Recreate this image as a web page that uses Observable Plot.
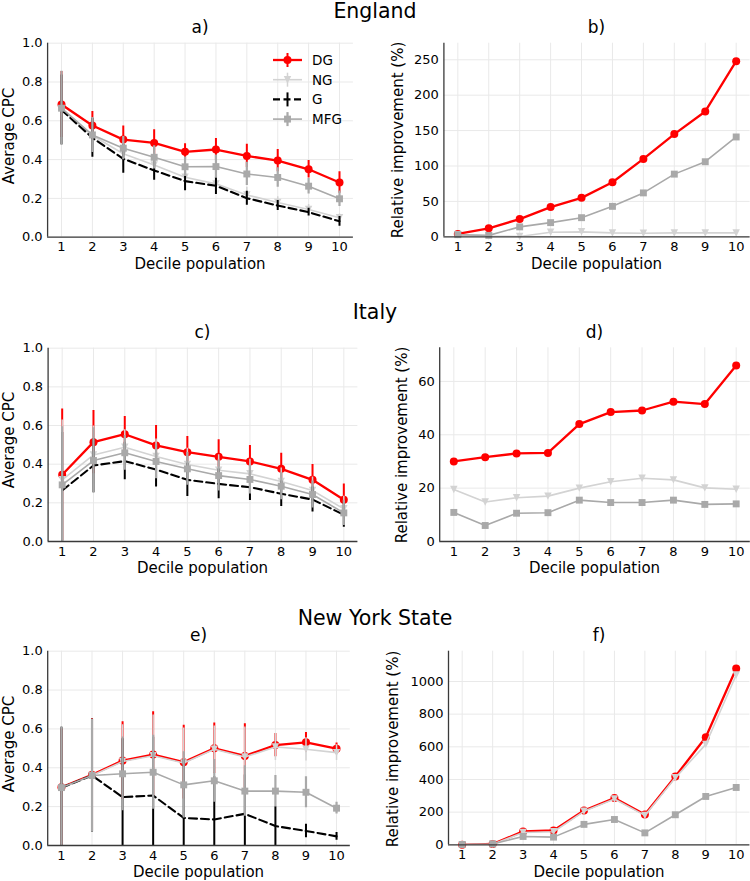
<!DOCTYPE html>
<html><head><meta charset="utf-8">
<script src="https://cdn.jsdelivr.net/npm/d3@7"></script>
<script src="https://cdn.jsdelivr.net/npm/@observablehq/plot@0.6"></script>
<style>
html,body{margin:0;padding:0;background:#fff;}
#root{position:relative;width:750px;height:881px;overflow:hidden;background:#fff;}
#root svg{position:absolute;}
</style></head><body><div id="root"></div>
<script>
// ---------------- data ----------------
const deciles = [1,2,3,4,5,6,7,8,9,10];
const seriesNames = ["DG","NG","G","MFG"];
const regionTitles = ["England","Italy","New York State"];
const panelLetters = ["a)","b)","c)","d)","e)","f)"];
const xLabel = "Decile population";
const yLabelCPC = "Average CPC";
const yLabelRel = "Relative improvement (%)";

const cpcTicks = [0,0.2,0.4,0.6,0.8,1.0];
const engRelTicks = [0,50,100,150,200,250];
const itaRelTicks = [0,20,40,60];
const nyRelTicks = [0,200,400,600,800,1000];

// England - Average CPC
const engDG = [0.684,0.576,0.503,0.486,0.440,0.452,0.419,0.395,0.350,0.282];
const engDGErr = [0.17,0.072,0.070,0.068,0.042,0.057,0.060,0.057,0.045,0.056];
const engNG = [0.660,0.524,0.430,0.372,0.309,0.275,0.218,0.179,0.143,0.100];
const engNGErr = [0.18,0.09,0.07,0.06,0.05,0.045,0.04,0.03,0.025,0.02];
const engG = [0.656,0.512,0.404,0.344,0.289,0.265,0.201,0.163,0.129,0.082];
const engGErr = [0.18,0.10,0.074,0.05,0.05,0.045,0.036,0.026,0.02,0.025];
const engMFG = [0.665,0.527,0.459,0.412,0.363,0.364,0.326,0.308,0.263,0.198];
const engMFGErr = [0.19,0.09,0.06,0.06,0.05,0.06,0.06,0.05,0.04,0.04];
// England - relative improvement (%)
const engRelDG = [4,12,25,42,55,77,110,145,177,248];
const engRelNG = [3,1,0.5,6.5,7,5.5,5,5.5,5.5,5.5];
const engRelMFG = [3,2,14,20,27,43,62,88.5,106,141];

// Italy - Average CPC
const itaDG = [0.345,0.514,0.555,0.497,0.462,0.438,0.414,0.376,0.319,0.216];
const itaDGErr = [0.34,0.164,0.092,0.103,0.081,0.088,0.083,0.081,0.079,0.082];
const itaNG = [0.319,0.448,0.488,0.440,0.398,0.369,0.350,0.310,0.264,0.169];
const itaNGErr = [0.31,0.15,0.09,0.09,0.085,0.08,0.075,0.07,0.07,0.065];
const itaG = [0.264,0.393,0.416,0.372,0.319,0.298,0.281,0.247,0.217,0.138];
const itaGErr = [0.30,0.14,0.097,0.09,0.086,0.077,0.069,0.066,0.065,0.064];
const itaMFG = [0.293,0.419,0.459,0.414,0.376,0.341,0.321,0.286,0.243,0.148];
const itaMFGErr = [0.30,0.17,0.09,0.09,0.085,0.08,0.075,0.07,0.07,0.065];
// Italy - relative improvement (%)
const itaRelDG = [30,31.6,33,33.2,44,48.5,49.1,52.4,51.5,66];
const itaRelNG = [19.5,14.8,16.4,17,20,22.4,23.7,23.1,20.1,19.6];
const itaRelMFG = [10.9,6,10.6,10.8,15.5,14.6,14.6,15.5,13.9,14.1];

// New York State - Average CPC
const nyDG = [0.300,0.364,0.437,0.468,0.429,0.500,0.461,0.517,0.531,0.498];
const nyDGErr = [0.30,0.29,0.20,0.22,0.19,0.13,0.165,0.06,0.05,0.03];
const nyNG = [0.295,0.360,0.432,0.462,0.425,0.495,0.455,0.507,0.495,0.478];
const nyNGErr = [0.30,0.29,0.19,0.21,0.18,0.12,0.155,0.07,0.06,0.04];
const nyG = [0.298,0.360,0.249,0.257,0.142,0.134,0.163,0.100,0.075,0.047];
const nyGErr = [0.31,0.29,0.30,0.30,0.30,0.22,0.20,0.10,0.035,0.02];
const nyMFG = [0.298,0.360,0.369,0.377,0.312,0.333,0.280,0.280,0.274,0.192];
const nyMFGErr = [0.31,0.29,0.19,0.19,0.17,0.11,0.13,0.08,0.08,0.03];
// New York State - relative improvement (%)
const nyRelDG = [0,5,82,88,210,286,186,418,659,1080];
const nyRelNG = [0,3,75,80,205,280,180,410,615,1040];
const nyRelMFG = [2,5,51,47,125,155,73,184,296,351];

// ---------------- styles ----------------
const triangleDown = {
  draw(ctx, size) {
    const a = Math.sqrt(size) * 0.5;
    ctx.moveTo(-a, -a);
    ctx.lineTo(a, -a);
    ctx.lineTo(0, a);
    ctx.closePath();
  }
};
const styles = {
  DG:  {color: "#ff0000", lw: 2.3, ew: 2.0, dash: null, symbol: "circle", r: 4},
  NG:  {color: "#d3d3d3", lw: 1.6, ew: 1.5, dash: null, symbol: triangleDown, r: 4.2},
  G:   {color: "#000000", lw: 2.1, ew: 2.0, dash: "8,4", symbol: null, r: 0},
  MFG: {color: "#a9a9a9", lw: 1.6, ew: 2.2, dash: null, symbol: "square", r: 3.9}
};
const gridColor = "#e9e9e9";
const spineColor = "#3a3a3a";
const FONT = "DejaVu Sans, sans-serif";

function rows(values, errs) {
  return deciles.map((d, i) => ({d, v: values[i],
    lo: errs ? values[i] - errs[i] : null, hi: errs ? values[i] + errs[i] : null}));
}

const xDomain = [0.55, 10.45];
const root = document.getElementById("root");

function panel({box, frame, yDomain, yTicks, yFormat, series}) {
  const [bx, by, bw, bh] = box;
  const [fx0, fy0, fx1, fy1] = frame;
  const marks = [
    Plot.gridX(deciles, {stroke: gridColor, strokeOpacity: 1, strokeWidth: 1}),
    Plot.gridY(yTicks, {stroke: gridColor, strokeOpacity: 1, strokeWidth: 1}),
    Plot.axisX(deciles, {tickSize: 0, tickPadding: 5, label: null, fontSize: 13, tickFormat: d => String(d)}),
    Plot.axisY(yTicks, {tickSize: 0, tickPadding: 5, label: null, fontSize: 13, tickFormat: yFormat})
  ];
  for (const s of series) {
    const st = styles[s.name];
    if (s.data[0].lo != null) {
      marks.push(Plot.ruleX(s.data, {x: "d", y1: "lo", y2: "hi", stroke: st.color, strokeWidth: st.ew, clip: true}));
    }
    marks.push(Plot.line(s.data, {x: "d", y: "v", stroke: st.color, strokeWidth: st.lw,
      strokeDasharray: st.dash || undefined, clip: true}));
    if (st.symbol) {
      marks.push(Plot.dot(s.data, {x: "d", y: "v", symbol: st.symbol, r: st.r, fill: st.color, stroke: "none"}));
    }
  }
  marks.push(Plot.ruleX([xDomain[0]], {stroke: spineColor, strokeWidth: 1.3}));
  marks.push(Plot.ruleY([yDomain[0]], {stroke: spineColor, strokeWidth: 1.3}));
  const svg = Plot.plot({
    width: bw, height: bh,
    marginLeft: fx0 - bx, marginRight: bx + bw - fx1,
    marginTop: fy0 - by, marginBottom: by + bh - fy1,
    x: {type: "linear", domain: xDomain, label: null},
    y: {type: "linear", domain: yDomain, label: null},
    style: {fontFamily: FONT, fontSize: "13px", color: "#000", background: "transparent", overflow: "visible"},
    marks
  });
  svg.style.left = bx + "px";
  svg.style.top = by + "px";
  root.appendChild(svg);
}

const fmt1 = d3.format(".1f");
const fmtInt = d => String(d);

panel({box: [0, 35, 366, 228], frame: [47.1, 42.7, 352.9, 236.7], yDomain: [0, 1], yTicks: cpcTicks, yFormat: fmt1,
  series: [
    {name: "DG", data: rows(engDG, engDGErr)}, {name: "NG", data: rows(engNG, engNGErr)},
    {name: "G", data: rows(engG, engGErr)}, {name: "MFG", data: rows(engMFG, engMFGErr)}]});
panel({box: [370, 35, 380, 228], frame: [443.4, 42.7, 749.6, 236.3], yDomain: [0, 273.4], yTicks: engRelTicks, yFormat: fmtInt,
  series: [
    {name: "DG", data: rows(engRelDG)}, {name: "NG", data: rows(engRelNG)}, {name: "MFG", data: rows(engRelMFG)}]});
panel({box: [0, 340, 370, 228], frame: [47.6, 347.7, 357.4, 541.0], yDomain: [0, 1], yTicks: cpcTicks, yFormat: fmt1,
  series: [
    {name: "DG", data: rows(itaDG, itaDGErr)}, {name: "NG", data: rows(itaNG, itaNGErr)},
    {name: "G", data: rows(itaG, itaGErr)}, {name: "MFG", data: rows(itaMFG, itaMFGErr)}]});
panel({box: [370, 340, 380, 228], frame: [439.2, 347.3, 749.8, 541.0], yDomain: [0, 72.6], yTicks: itaRelTicks, yFormat: fmtInt,
  series: [
    {name: "DG", data: rows(itaRelDG)}, {name: "NG", data: rows(itaRelNG)}, {name: "MFG", data: rows(itaRelMFG)}]});
panel({box: [0, 643, 366, 228], frame: [47.2, 650.7, 349.8, 845.0], yDomain: [0, 1], yTicks: cpcTicks, yFormat: fmt1,
  series: [
    {name: "DG", data: rows(nyDG, nyDGErr)}, {name: "NG", data: rows(nyNG, nyNGErr)},
    {name: "G", data: rows(nyG, nyGErr)}, {name: "MFG", data: rows(nyMFG, nyMFGErr)}]});
panel({box: [370, 643, 380, 228], frame: [448.0, 650.7, 749.4, 844.3], yDomain: [0, 1185.5], yTicks: nyRelTicks, yFormat: fmtInt,
  series: [
    {name: "DG", data: rows(nyRelDG)}, {name: "NG", data: rows(nyRelNG)}, {name: "MFG", data: rows(nyRelMFG)}]});

// ---------------- overlay: titles, axis labels, legend ----------------
const ov = d3.select(root).append("svg")
  .attr("width", 750).attr("height", 881)
  .style("left", "0px").style("top", "0px").style("pointer-events", "none")
  .attr("font-family", FONT);

const titleY = [18, 319, 624.5];
regionTitles.forEach((t, i) => ov.append("text").attr("x", 375).attr("y", titleY[i])
  .attr("text-anchor", "middle").attr("font-size", 20.5).attr("fill", "#000").text(t));

const letterPos = [[200, 33], [596.5, 33], [202.5, 337.5], [594.5, 337.5], [198.5, 640.5], [599, 640.5]];
panelLetters.forEach((t, i) => ov.append("text").attr("x", letterPos[i][0]).attr("y", letterPos[i][1])
  .attr("text-anchor", "middle").attr("font-size", 17).attr("fill", "#000").text(t));

const xLabelPos = [[200, 269], [596.5, 269], [202.5, 573], [594.5, 573], [198.5, 877], [599, 877]];
xLabelPos.forEach(([x, y]) => ov.append("text").attr("x", x).attr("y", y)
  .attr("text-anchor", "middle").attr("font-size", 15).attr("fill", "#000").text(xLabel));

const yLabelPos = [[13.5, 136, yLabelCPC], [402.5, 140, yLabelRel], [13.5, 440, yLabelCPC],
                   [406.5, 445, yLabelRel], [13.5, 744, yLabelCPC], [398, 749, yLabelRel]];
yLabelPos.forEach(([x, y, t]) => ov.append("text").attr("transform", `translate(${x},${y}) rotate(-90)`)
  .attr("text-anchor", "middle").attr("font-size", 15).attr("fill", "#000").text(t));

// legend (panel a)
const legend = ov.append("g");
seriesNames.forEach((name, i) => {
  const st = styles[name];
  const y = 60 + i * 19.7;
  const g = legend.append("g");
  g.append("line").attr("x1", 273).attr("x2", 302).attr("y1", y).attr("y2", y)
    .attr("stroke", st.color).attr("stroke-width", st.lw)
    .attr("stroke-dasharray", st.dash ? "7,3.5" : null);
  g.append("line").attr("x1", 287.5).attr("x2", 287.5).attr("y1", y - 7).attr("y2", y + 7)
    .attr("stroke", st.color).attr("stroke-width", st.ew);
  if (st.symbol) {
    const type = st.symbol === "circle" ? d3.symbolCircle : st.symbol === "square" ? d3.symbolSquare : st.symbol;
    g.append("path").attr("transform", `translate(287.5,${y})`)
      .attr("d", d3.symbol(type, Math.PI * st.r * st.r)()).attr("fill", st.color);
  }
  g.append("text").attr("x", 312).attr("y", y).attr("dy", "0.36em")
    .attr("font-size", 13.5).attr("fill", "#000").text(name);
});
</script>
</body></html>
